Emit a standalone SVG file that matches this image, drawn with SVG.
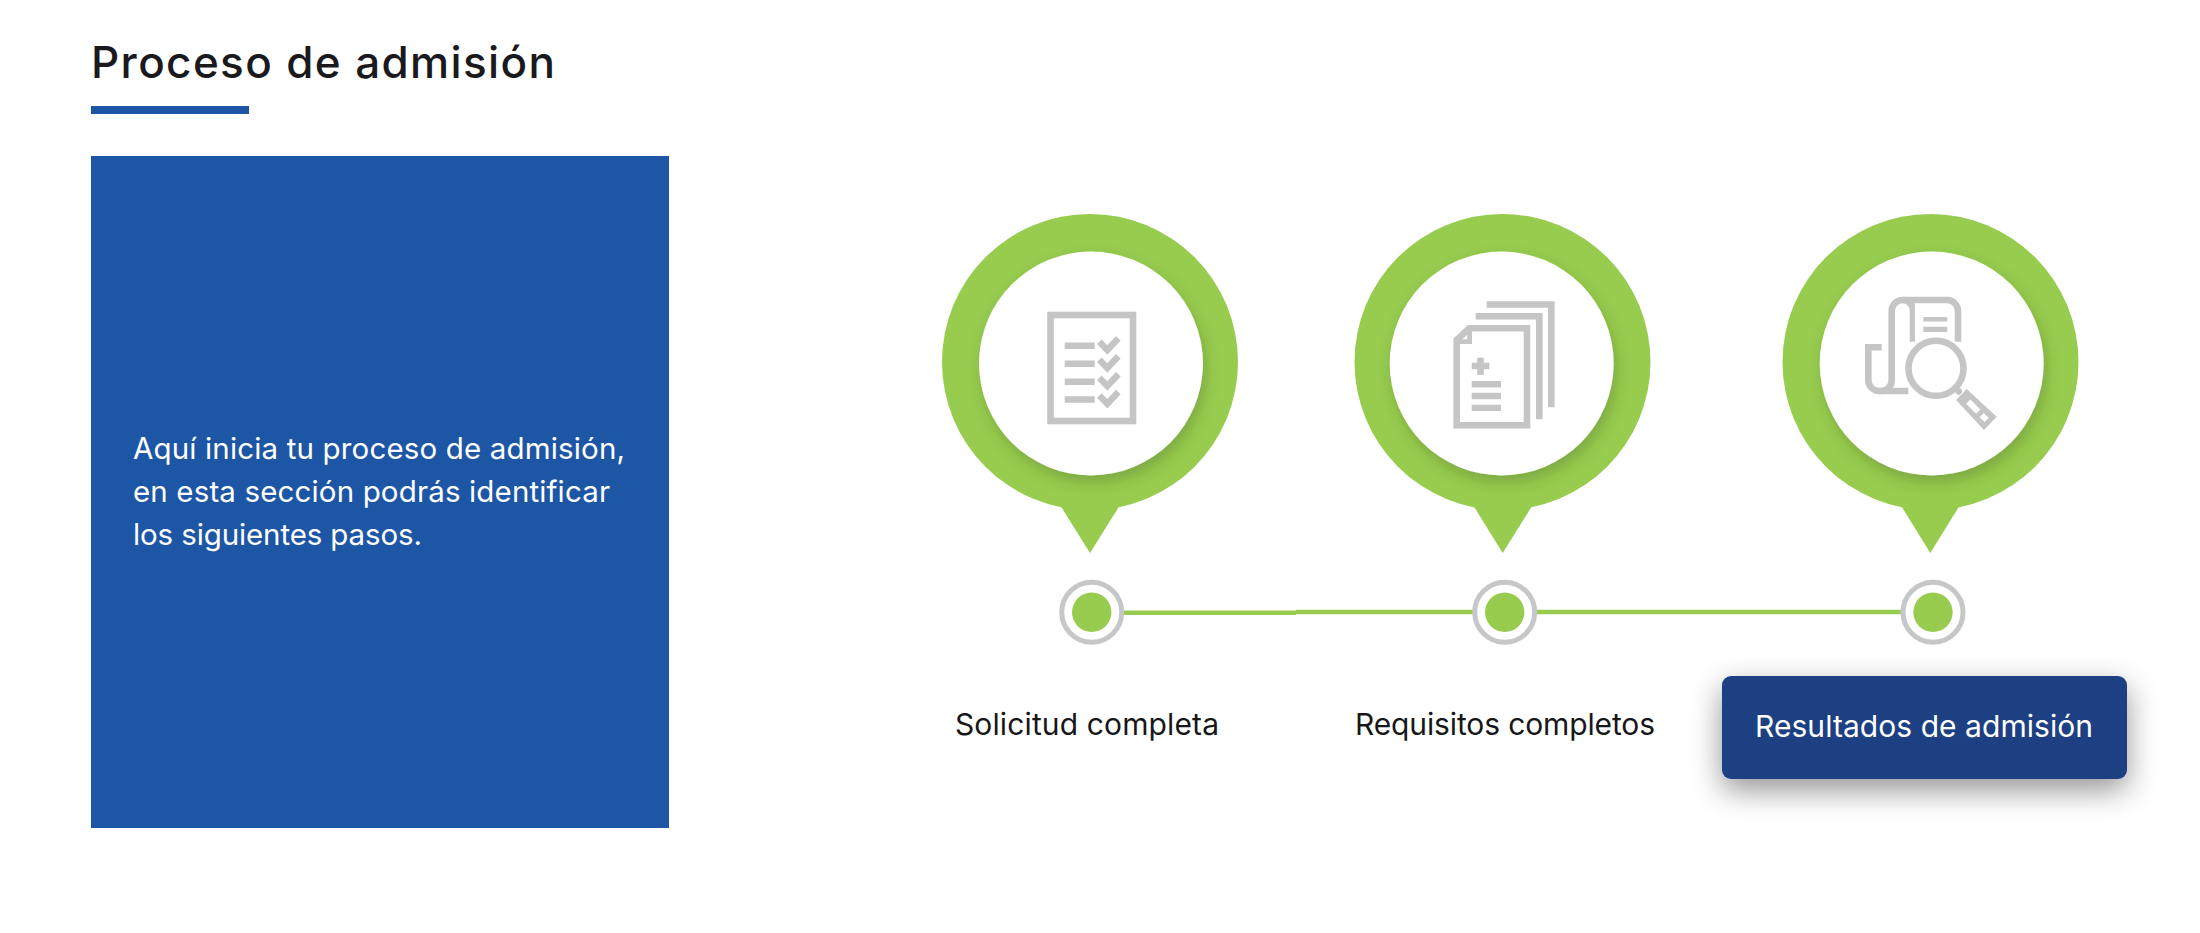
<svg xmlns="http://www.w3.org/2000/svg" width="2200" height="933" viewBox="0 0 2200 933">
<style>
text{font-family:"Inter","Liberation Sans",sans-serif;font-weight:400}
.title{font-size:44px;font-weight:500;fill:#1a1a1e}
.lead{font-size:29.5px;fill:#fff}
.lab{font-size:30px;fill:#17171a}
.pin{fill:#97cc4f}
.face{fill:#fff;filter:url(#soft)}
.ic{fill:none;stroke:#c5c5c5;stroke-width:6.6;filter:url(#ib)}
.icf{fill:#c5c5c5;filter:url(#ib)}
.ring{fill:#fff;stroke:#c6c7c9;stroke-width:5}
.dot{fill:#97cc4f}
.conn{stroke:#97cc4f;stroke-width:4.4;fill:none}
</style>
<defs>
<filter id="soft" x="-20%" y="-20%" width="140%" height="140%"><feDropShadow dx="3" dy="7" stdDeviation="7" flood-color="#3a4a20" flood-opacity=".28"/></filter>
<filter id="btn" x="-20%" y="-60%" width="140%" height="240%"><feDropShadow dx="0" dy="11" stdDeviation="15" flood-color="#000" flood-opacity=".42"/></filter>
<filter id="ib" x="-10%" y="-10%" width="120%" height="120%"><feGaussianBlur stdDeviation=".45"/></filter>
</defs>
<rect width="2200" height="933" fill="#fff"/>

<g id="header">
<text class="title" x="91" y="78" textLength="464" lengthAdjust="spacing">Proceso de admisión</text>
<rect x="91" y="106" width="158" height="8" fill="#1e56a6"/>
</g>

<g id="intro">
<rect x="91" y="156" width="578" height="672" fill="#1e56a6"/>
<text class="lead" x="133" y="459" textLength="492" lengthAdjust="spacing">Aquí inicia tu proceso de admisión,</text>
<text class="lead" x="133" y="502" textLength="477" lengthAdjust="spacing">en esta sección podrás identificar</text>
<text class="lead" x="133" y="545" textLength="289" lengthAdjust="spacing">los siguientes pasos.</text>
</g>

<g id="connectors">
<path class="conn" d="M1122 612.7H1296"/>
<path class="conn" d="M1296 612H1474"/>
<path class="conn" d="M1536 612H1903"/>
</g>

<g id="step-1">
<circle class="pin" cx="1090" cy="362" r="148"/>
<path class="pin" d="M1060 505H1120L1090 553Z"/>
<circle class="face" cx="1091" cy="363.5" r="112"/>
<g>
<rect class="ic" x="1050.5" y="315" width="82.5" height="106"/>
<path class="ic" d="M1064.7 345.7H1094.7M1064.7 363.7H1094.7M1064.7 381.7H1094.7M1064.7 399.5H1094.7"/>
<path class="ic" d="M1099.3 341.7L1107.3 350L1118.3 338.3M1099.3 359.7L1107.3 368L1118.3 356.3M1099.3 377.7L1107.3 386L1118.3 374.3M1099.3 395.5L1107.3 403.8L1118.3 392.1"/>
</g>
<circle class="ring" cx="1091.7" cy="612.3" r="30"/>
<circle class="dot" cx="1091.7" cy="612.3" r="19.7"/>
<text class="lab" x="955" y="735" textLength="264" lengthAdjust="spacing">Solicitud completa</text>
</g>

<g id="step-2">
<circle class="pin" cx="1502.5" cy="362" r="148"/>
<path class="pin" d="M1473 505H1532.7L1502.7 553Z"/>
<circle class="face" cx="1501.7" cy="363.5" r="112"/>
<g>
<path class="ic" d="M1486.7 304.5H1551.3V407.3"/>
<path class="ic" d="M1475.7 316.3H1539.3V419.3"/>
<path class="ic" d="M1469.3 328.3H1527V425.3H1456.7V340Z"/>
<path class="ic" d="M1470.5 330V342.5H1458"/>
<path class="ic" d="M1471.7 366H1489.3M1480.5 357.7V375"/>
<path class="ic" d="M1471.7 384.3H1501M1471.7 396H1501M1471.7 408H1501"/>
<path class="ic" d="M1509.7 381.7V398.3M1509.7 405V410.7"/>
</g>
<circle class="ring" cx="1504.7" cy="612.3" r="30"/>
<circle class="dot" cx="1504.7" cy="612.3" r="19.7"/>
<text class="lab" x="1355" y="735" textLength="300" lengthAdjust="spacing">Requisitos completos</text>
</g>

<g id="step-3">
<circle class="pin" cx="1930.5" cy="362" r="148"/>
<path class="pin" d="M1900.7 505H1960L1930.3 553Z"/>
<circle class="face" cx="1931.7" cy="363.5" r="112"/>
<g>
<path class="ic" d="M1881.7 347.3H1868.3V380A11 11 0 0 0 1879.3 391H1908.3"/>
<path class="ic" d="M1879.3 391H1881A10.7 10.7 0 0 0 1891.7 380.3V311A11 11 0 0 1 1902.7 300H1947A11 11 0 0 1 1958 311V341.7"/>
<path class="ic" d="M1902.7 300A10.5 10.5 0 0 1 1913 310.5V341.7"/>
<path class="ic" d="M1923.3 318.3H1947.3M1923.3 330H1947.3"/>
<circle class="ic" cx="1936" cy="368.3" r="27.5"/>
<path class="ic" d="M1955 387.5L1961 393.5"/>
<path class="icf" d="M1966.7 389L1996.7 416.7L1984 430L1956 400Z"/>
<path fill="none" stroke="#fff" stroke-width="6" d="M1968.3 401.7L1978.3 411.7M1981.7 415L1986.7 420"/>
</g>
<circle class="ring" cx="1933" cy="612.3" r="30"/>
<circle class="dot" cx="1933" cy="612.3" r="19.7"/>
<rect x="1722" y="676" width="405" height="103" rx="9" fill="#1f4082" filter="url(#btn)"/>
<text class="lab" style="fill:#fff" x="1755" y="737" textLength="338" lengthAdjust="spacing">Resultados de admisión</text>
</g>
</svg>
